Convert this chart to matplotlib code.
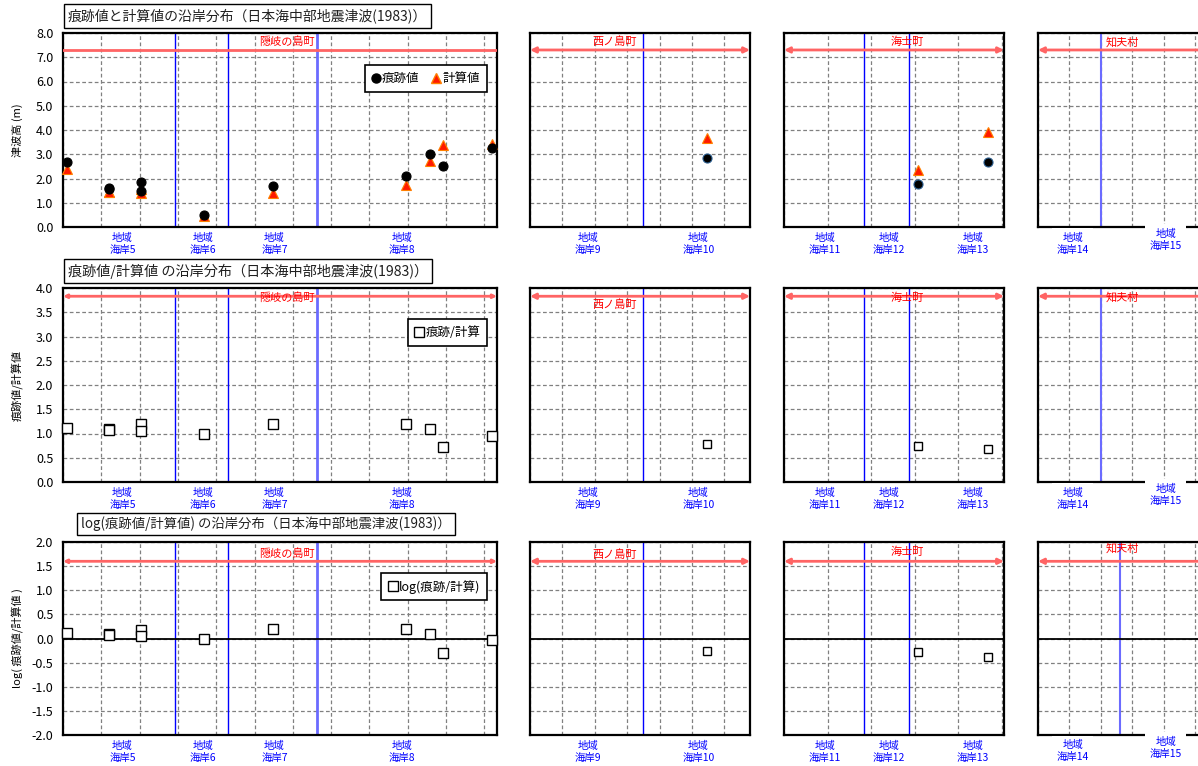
"""Alongshore distribution of observed / computed tsunami heights (1983 Nihonkai-Chubu), 3 rows x 4 panels."""
import matplotlib
matplotlib.use("Agg")
import matplotlib.pyplot as plt
from matplotlib.lines import Line2D
from matplotlib.transforms import blended_transform_factory

plt.rcParams['font.family'] = ['Noto Sans CJK JP', 'DejaVu Sans']

W, H = 1198, 766

# ---- data (x = alongshore position in grid units of each panel) ----
p1_x = [0.10, 1.20, 1.20, 2.04, 2.04, 3.68, 5.48, 8.95, 9.58, 9.92, 11.20]
p1_obs = [2.70, 1.60, 1.55, 1.85, 1.50, 0.50, 1.70, 2.10, 3.00, 2.50, 3.27]
p1_calc = [2.40, 1.45, 1.45, 1.55, 1.42, 0.47, 1.40, 1.75, 2.72, 3.38, 3.42]
p1_ratio = [1.12, 1.09, 1.07, 1.19, 1.05, 1.00, 1.20, 1.20, 1.09, 0.73, 0.95]
p1_log = [0.12, 0.09, 0.08, 0.17, 0.05, 0.00, 0.19, 0.19, 0.10, -0.30, -0.04]

p2_x = [5.46]
p2_obs = [2.85]
p2_calc = [3.67]
p2_ratio = [0.78]
p2_log = [-0.25]

p3_x = [3.07, 4.68]
p3_obs = [1.77, 2.68]
p3_calc = [2.35, 3.92]
p3_ratio = [0.75, 0.68]
p3_log = [-0.29, -0.38]

p4_x, p4_obs, p4_calc, p4_ratio, p4_log = [], [], [], [], []

towns = ["隠岐の島町", "西ノ島町", "海士町", "知夫村"]
town_x = [5.85, 2.6, 2.84, 2.67]
town_line_y = [7.3, 3.83, 1.6]
town_text_y = [[7.63, 7.63, 7.63, 7.63],
               [3.80, 3.65, 3.80, 3.80],
               [1.77, 1.73, 1.79, 1.86]]

coasts = [[("海岸5", 1.55), ("海岸6", 3.66), ("海岸7", 5.52), ("海岸8", 8.86)],
          [("海岸9", 1.79), ("海岸10", 5.2)],
          [("海岸11", 0.94), ("海岸12", 2.41), ("海岸13", 4.33)],
          [("海岸14", 1.1), ("海岸15", 4.06)]]

bounds = [[2.92, 4.31], [3.49], [1.83, 2.87], []]
light_bounds = [[6.63], [], [], [2.0]]
light_bounds_row3_p4 = [2.6]

xs = [p1_x, p2_x, p3_x, p4_x]
obs = [p1_obs, p2_obs, p3_obs, p4_obs]
calc = [p1_calc, p2_calc, p3_calc, p4_calc]
ratio = [p1_ratio, p2_ratio, p3_ratio, p4_ratio]
logr = [p1_log, p2_log, p3_log, p4_log]

titles = ["痕跡値と計算値の沿岸分布（日本海中部地震津波(1983)）",
          "痕跡値/計算値 の沿岸分布（日本海中部地震津波(1983)）",
          "log(痕跡値/計算値) の沿岸分布（日本海中部地震津波(1983)）"]
title_size = [10, 10.2, 9.6]
ylabels = ["津波高 (m)", "痕跡値/計算値", "log( 痕跡値/計算値 )"]
ylims = [(0, 8), (0, 4), (-2, 2)]
ysteps = [1.0, 0.5, 0.5]

# ---- layout in pixels ----
panel_left = [63, 530, 784, 1038]
panel_right = [497, 750, 1004, 1258]
panel_xmax = [11.33, 6.79, 5.05, 7.0]
row_top = [33, 288, 542]
row_bottom = [227, 482, 735]
title_pos = [(68, 16), (68, 271), (81, 524)]

BLUE = "#0000ff"
LBLUE = "#6b6bff"
RED = "#ff0000"
RLINE = "#ff6464"

fig = plt.figure(figsize=(W / 100, H / 100), dpi=100)
fig.patch.set_facecolor("white")

for r in range(3):
    y0, y1 = ylims[r]
    n = int(round((y1 - y0) / ysteps[r]))
    yt = [y0 + i * ysteps[r] for i in range(n + 1)]
    for p in range(4):
        l, rr = panel_left[p], panel_right[p]
        t, b = row_top[r], row_bottom[r]
        ax = fig.add_axes([l / W, 1 - b / H, (rr - l) / W, (b - t) / H])
        xmax = panel_xmax[p]
        ax.set_xlim(0, xmax)
        ax.set_ylim(y0, y1)
        ax.set_xticks(range(0, int(xmax) + 1))
        ax.set_yticks(yt)
        ax.tick_params(length=0, labelbottom=False, labelsize=9, pad=7)
        if p == 0:
            ax.set_yticklabels([f"{v:.1f}" for v in yt])
            ax.set_ylabel(ylabels[r], fontsize=8)
            ax.yaxis.set_label_coords(-0.093, 0.5)
        else:
            ax.tick_params(labelleft=False)
        ax.grid(True, color="#808080", linestyle=(0, (3, 2)), linewidth=0.9, zorder=0)
        ax.set_axisbelow(True)
        for s in ax.spines.values():
            s.set_linewidth(1.6)
            s.set_color("black")

        for bx in bounds[p]:
            ax.axvline(bx, color=BLUE, lw=1.0, zorder=2)
        lb = light_bounds_row3_p4 if (r == 2 and p == 3) else light_bounds[p]
        for bx in lb:
            ax.axvline(bx, color=LBLUE, lw=2.0 if p == 0 else 1.5, zorder=2)

        if r == 2:
            ax.axhline(0, color="black", lw=1.3, zorder=2)

        # town extent line
        ly = town_line_y[r]
        if r == 0 and p == 0:
            ax.plot([0, xmax], [ly, ly], color=RLINE, lw=2, zorder=3)
        else:
            ax.annotate("", xy=(xmax, ly), xytext=(0, ly),
                        arrowprops=dict(arrowstyle="<|-|>", color=RLINE, lw=2,
                                        shrinkA=0, shrinkB=0,
                                        mutation_scale=5 if p == 0 else 8),
                        annotation_clip=False, zorder=3)
        ax.text(town_x[p], town_text_y[r][p], towns[p], color=RED, fontsize=8,
                ha="center", va="center", zorder=4)

        # coast labels under the axes
        tr = blended_transform_factory(ax.transData, ax.transAxes)
        for name, cx in coasts[p]:
            if p == 3:
                cy = -0.065 if name == "海岸15" else -0.085
                ax.text(cx, cy, "地域\n" + name, transform=tr, color=BLUE, fontsize=7.5,
                        ha="center", va="center", linespacing=1.25,
                        bbox=dict(facecolor="white", edgecolor="none", pad=3))
            else:
                ax.text(cx, -0.088, "地域\n" + name, transform=tr, color=BLUE, fontsize=7.5,
                        ha="center", va="center", linespacing=1.25)

        # marks
        edge = "black" if p == 0 else "#2a5d8f"
        if r == 0:
            ax.plot(xs[p], calc[p], linestyle="none", marker="^", ms=7,
                    mfc="#ff1a00", mec="#ff8000", mew=0.8, zorder=5, clip_on=False)
            ax.plot(xs[p], obs[p], linestyle="none", marker="o", ms=6.5,
                    mfc="black", mec=edge, mew=0.8, zorder=6, clip_on=False)
        else:
            vals = ratio[p] if r == 1 else logr[p]
            ax.plot(xs[p], vals, linestyle="none", marker="s",
                    ms=6.5 if p == 0 else 5.5,
                    mfc="white", mec="black", mew=1.0, zorder=5, clip_on=False)

        if p == 0:
            if r == 0:
                handles = [Line2D([], [], ls="none", marker="o", ms=6.5, mfc="black", mec="black"),
                           Line2D([], [], ls="none", marker="^", ms=7, mfc="#ff1a00", mec="#ff8000")]
                labels = ["痕跡値", "計算値"]
                ncol = 2
                anchor = (0.977, 0.835)
            else:
                handles = [Line2D([], [], ls="none", marker="s", ms=6.5, mfc="white", mec="black")]
                labels = ["痕跡/計算"] if r == 1 else ["log(痕跡/計算)"]
                ncol = 1
                anchor = (0.977, 0.84)
            leg = ax.legend(handles, labels, ncol=ncol, loc="upper right",
                            bbox_to_anchor=anchor, borderaxespad=0, fontsize=9,
                            fancybox=False, framealpha=1, edgecolor="black",
                            handlelength=0.7, handletextpad=0.15, columnspacing=1.0,
                            borderpad=0.55)
            leg.get_frame().set_linewidth(1.2)

for r in range(3):
    tx, ty = title_pos[r]
    fig.text(tx / W, 1 - ty / H, titles[r], fontsize=title_size[r], ha="left", va="center",
             color="#202020",
             bbox=dict(boxstyle="square,pad=0.3", facecolor="white", edgecolor="black", lw=1))

fig.savefig("out.png", dpi=100, facecolor="white")
